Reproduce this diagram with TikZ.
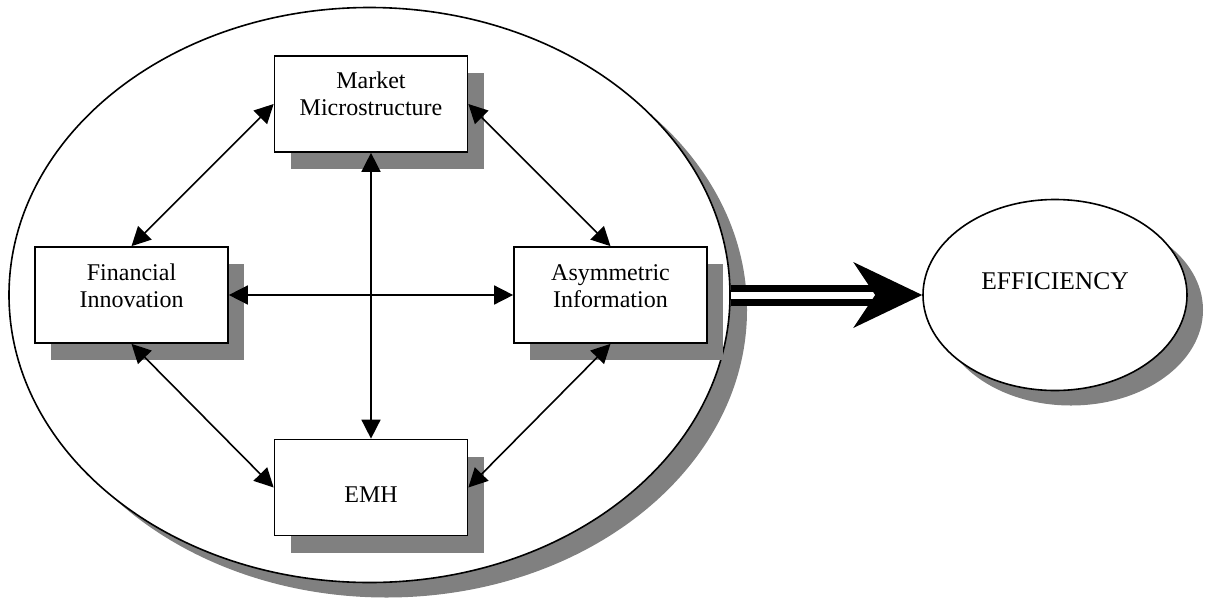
\documentclass[tikz,border=0pt]{standalone}
\usepackage{fontspec}
\setmainfont{Liberation Serif}
\usetikzlibrary{arrows.meta,shapes.geometric,shadows,calc}
\begin{document}
\begin{tikzpicture}[x=1pt,y=-1pt,
  shd/.style={drop shadow={shadow xshift=16pt,shadow yshift=-17pt,fill=black!50,opacity=1}},
  box/.style={draw,line width=1.7pt,fill=white,minimum width=193pt,minimum height=96pt,inner sep=0pt,shd},
  lbl/.style={font=\fontsize{24}{27}\selectfont,align=center,anchor=base,inner sep=0pt},
  link/.style={line width=1.6pt,{Triangle[length=19pt,width=19pt]}-{Triangle[length=19pt,width=19pt]}},
]
\useasboundingbox (0,0) rectangle (1207,600);
\node[ellipse,draw,line width=1.6pt,fill=white,minimum width=721pt,minimum height=575pt,inner sep=0pt,
  drop shadow={shadow xshift=17pt,shadow yshift=-15pt,fill=black!50,opacity=1}] (big) at (369.5,295) {};
\node[box] (mm) at (371,104) {};
\node[box] (fi) at (131.5,295) {};
\node[box] (ai) at (610.5,295) {};
\node[box] (emh) at (371,487.5) {};
\node[lbl] (mmt) at (371,115) {Market\\Microstructure};
\node[lbl] (fit) at (131.5,307) {Financial\\Innovation};
\node[lbl] (ait) at (610.5,307) {Asymmetric\\Information};
\node[lbl] (emht) at (371,502) {EMH};
\draw[link] (mm.west) -- (fi.north);
\draw[link] (mm.east) -- (ai.north);
\draw[link] (mm.south) -- (emh.north);
\draw[link] (fi.east) -- (ai.west);
\draw[link] (fi.south) -- (emh.west);
\draw[link] (ai.south) -- (emh.east);
\node[ellipse,draw,line width=1.6pt,fill=white,minimum width=264pt,minimum height=191pt,inner sep=0pt,
  drop shadow={shadow xshift=16pt,shadow yshift=-15pt,fill=black!50,opacity=1}] (eff) at (1055,295) {};
\node[lbl,font=\fontsize{25.5}{27}\selectfont] (efft) at (1055,289) {EFFICIENCY};
\coordinate (nt) at ($(eff.west)+(-45,0)$);
\draw[line width=7pt,double=white,double distance=7pt] (big.east) -- (nt);
\fill (eff.west) -- ++(-69,-33) -- ++(22,33) -- ++(-22,33) -- cycle;
\end{tikzpicture}
\end{document}
